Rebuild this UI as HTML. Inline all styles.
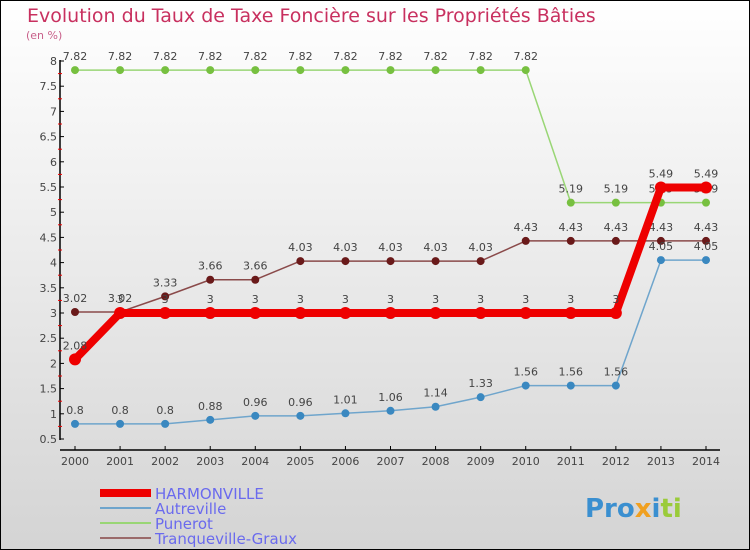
<!DOCTYPE html>
<html><head><meta charset="utf-8"><style>
body{margin:0}
svg{display:block;font-family:"DejaVu Sans","Liberation Sans",sans-serif}
</style></head><body>
<svg width="750" height="550" viewBox="0 0 750 550" xmlns="http://www.w3.org/2000/svg">
<defs><linearGradient id="bg" x1="0" y1="0" x2="0" y2="1"><stop offset="0" stop-color="#ffffff"/><stop offset="1" stop-color="#d4d4d4"/></linearGradient></defs>
<rect x="0.5" y="0.5" width="749" height="549" fill="url(#bg)" stroke="#000"/>
<text x="27" y="22" font-size="19" fill="#c8305f">Evolution du Taux de Taxe Foncière sur les Propriétés Bâties</text>
<text x="26" y="39" font-size="11" fill="#c8608a">(en %)</text>
<g id="axes"></g>
<g id="series"></g>
<g>
<line x1="100" y1="493" x2="151" y2="493" stroke="#e00" stroke-width="8"/>
<text x="155" y="499" font-size="15" fill="#6a6aee">HARMONVILLE</text>
<line x1="100" y1="508" x2="151" y2="508" stroke="#6fa5cc" stroke-width="2"/>
<text x="155" y="514" font-size="15" fill="#6a6aee">Autreville</text>
<line x1="100" y1="523" x2="151" y2="523" stroke="#99d675" stroke-width="2"/>
<text x="155" y="529" font-size="15" fill="#6a6aee">Punerot</text>
<line x1="100" y1="538" x2="151" y2="538" stroke="#9a6a6a" stroke-width="2"/>
<text x="155" y="544" font-size="15" fill="#6a6aee">Tranqueville-Graux</text>
</g>
<g font-size="26" font-weight="bold">
<text x="585" y="517"><tspan fill="#3a8fd0">Pro</tspan><tspan fill="#f0a020">x</tspan><tspan fill="#3a8fd0">i</tspan><tspan fill="#9acb3a">ti</tspan></text>
</g>
</svg>
<script>
const years=[2000,2001,2002,2003,2004,2005,2006,2007,2008,2009,2010,2011,2012,2013,2014];
const yTicks=[0.5,1,1.5,2,2.5,3,3.5,4,4.5,5,5.5,6,6.5,7,7.5,8];
const harmonville=[2.08,3,3,3,3,3,3,3,3,3,3,3,3,5.49,5.49];
const autreville=[0.8,0.8,0.8,0.88,0.96,0.96,1.01,1.06,1.14,1.33,1.56,1.56,1.56,4.05,4.05];
const punerot=[7.82,7.82,7.82,7.82,7.82,7.82,7.82,7.82,7.82,7.82,7.82,5.19,5.19,5.19,5.19];
const tranqueville=[3.02,3.02,3.33,3.66,3.66,4.03,4.03,4.03,4.03,4.03,4.43,4.43,4.43,4.43,4.43];
const NS="http://www.w3.org/2000/svg";
const X=y=>75+(y-2000)*(706-75)/14;
const Y=v=>439-(v-0.5)*(378/7.5);
function mk(tag,attrs,parent){const e=document.createElementNS(NS,tag);for(const k in attrs)e.setAttribute(k,attrs[k]);parent.appendChild(e);return e;}
const axes=document.getElementById('axes'),ser=document.getElementById('series');
let a=mk('line',{x1:60,y1:60,x2:60,y2:440,stroke:'#000','stroke-width':1.5},axes);


a=mk('line',{x1:60,y1:450,x2:720,y2:450,stroke:'#000','stroke-width':1.5},axes);


yTicks.forEach((v,i)=>{
 mk('line',{x1:60,y1:Y(v),x2:64,y2:Y(v),stroke:'#000'},axes);
 if(i<yTicks.length-1)mk('line',{x1:58,y1:Y(v+0.25),x2:62,y2:Y(v+0.25),stroke:'#e00'},axes);
 const t=mk('text',{x:57,y:Y(v)+4,'font-size':11,fill:'#444','text-anchor':'end'},axes);
 t.textContent=String(v);
 
 
});
years.forEach(y=>{
 mk('line',{x1:X(y),y1:446,x2:X(y),y2:450,stroke:'#000'},axes);
 const t=mk('text',{x:X(y),y:465,'font-size':11,fill:'#444','text-anchor':'middle'},axes);
 t.textContent=String(y);
 
 
});
function series(vals,name,color,w,r,dot){
 const g=mk('g',{},ser);
 
 
 const p=mk('polyline',{points:vals.map((v,i)=>X(years[i])+','+Y(v)).join(' '),fill:'none',stroke:color,'stroke-width':w,'stroke-linejoin':'round'},g);
 
 
 vals.forEach((v,i)=>{
  const c=mk('circle',{cx:X(years[i]),cy:Y(v),r:r,fill:dot},g);
  
  
  const t=mk('text',{x:X(years[i]),y:Y(v)-10,'font-size':11,fill:'#444','text-anchor':'middle'},g);
  t.textContent=String(v);
  
  
 });
}
series(punerot,'punerot','#99d675',1.5,4,'#77c040');
series(tranqueville,'tranqueville','#8a4a4a',1.5,4,'#6a1a1a');
series(autreville,'autreville','#6fa5cc',1.5,4,'#3a88c0');
series(harmonville,'harmonville','#ee0000',8,6,'#ee0000');
</script>
</body></html>
